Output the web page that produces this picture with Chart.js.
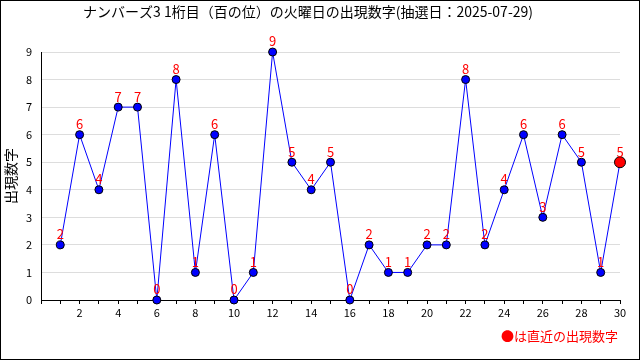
<!DOCTYPE html>
<html>
<head>
<meta charset="utf-8">
<script src="https://cdn.jsdelivr.net/npm/chart.js@4"></script>
<style>
  body { margin: 0; background: #fff; }
  #wrap { width: 640px; height: 360px; }
</style>
</head>
<body>
<div id="wrap"><canvas id="myChart" width="640" height="360"></canvas></div>
<script>
const titleText = 'ナンバーズ3 1桁目（百の位）の火曜日の出現数字(抽選日：2025-07-29)';
const yTitle = '出現数字';
const noteText = '●は直近の出現数字';
const draws = [1, 2, 3, 4, 5, 6, 7, 8, 9, 10, 11, 12, 13, 14, 15, 16, 17, 18, 19, 20, 21, 22, 23, 24, 25, 26, 27, 28, 29, 30];
const digits = [2, 6, 4, 7, 7, 0, 8, 1, 6, 0, 1, 9, 5, 4, 5, 0, 2, 1, 1, 2, 2, 8, 2, 4, 6, 3, 6, 5, 1, 5];

const font = '"Noto Sans CJK JP", "DejaVu Sans", sans-serif';
const last = digits.length - 1;

// title, axis title, value labels, note and frame
const extras = {
  id: 'extras',
  afterDatasetsDraw(chart) {
    const ctx = chart.ctx;
    const meta = chart.getDatasetMeta(0);
    ctx.save();
    ctx.fillStyle = '#ff0000';
    ctx.font = '13px ' + font;
    ctx.textAlign = 'center';
    ctx.textBaseline = 'bottom';
    meta.data.forEach((pt, i) => {
      ctx.fillText(String(digits[i]), pt.x, pt.y - 4);
    });
    ctx.restore();
  },
  afterDraw(chart) {
    const ctx = chart.ctx;
    ctx.save();
    ctx.fillStyle = '#000';
    ctx.font = '14px ' + font;
    ctx.textAlign = 'center';
    ctx.textBaseline = 'middle';
    ctx.fillText(titleText, 308, 12);

    ctx.translate(11, 176);
    ctx.rotate(-Math.PI / 2);
    ctx.font = '14px ' + font;
    ctx.fillText(yTitle, 0, 0);
    ctx.setTransform(1, 0, 0, 1, 0, 0);

    ctx.fillStyle = '#ff0000';
    ctx.textAlign = 'right';
    ctx.font = '13px ' + font;
    ctx.fillText(noteText, 618, 336);

    ctx.strokeStyle = '#000';
    ctx.lineWidth = 1;
    ctx.strokeRect(0.5, 0.5, 639, 359);
    ctx.restore();
  }
};

new Chart(document.getElementById('myChart'), {
  type: 'line',
  data: {
    datasets: [{
      data: draws.map((d, i) => ({ x: d, y: digits[i] })),
      borderColor: '#0000ff',
      borderWidth: 1,
      backgroundColor: digits.map((v, i) => i === last ? '#ff0000' : '#0000ff'),
      pointBorderColor: '#000',
      pointBorderWidth: 1,
      pointRadius: digits.map((v, i) => i === last ? 5.5 : 4),
      tension: 0,
      clip: false
    }]
  },
  plugins: [extras],
  options: {
    responsive: false,
    animation: false,
    layout: { padding: { left: 0, right: 20, top: 52, bottom: 0 } },
    plugins: {
      legend: { display: false },
      tooltip: { enabled: false },
      title: { display: false }
    },
    scales: {
      x: {
        type: 'linear',
        min: 0,
        max: 30,
        afterFit: (s) => { s.height = 60; },
        border: { color: '#000', width: 1 },
        grid: { display: true, drawOnChartArea: false, drawTicks: true, tickLength: 4, color: '#000' },
        ticks: {
          stepSize: 1,
          autoSkip: false,
          maxRotation: 0,
          color: '#000',
          font: { family: font, size: 11 },
          padding: 2,
          callback: (v) => (v > 0 && v % 2 === 0) ? String(v) : ''
        }
      },
      y: {
        min: 0,
        max: 9,
        afterFit: (s) => { s.width = 41; },
        border: { color: '#000', width: 1 },
        grid: { color: '#dddddd', drawTicks: false },
        ticks: {
          stepSize: 1,
          color: '#000',
          font: { family: font, size: 11 },
          padding: 9
        }
      }
    }
  }
});
</script>
</body>
</html>
